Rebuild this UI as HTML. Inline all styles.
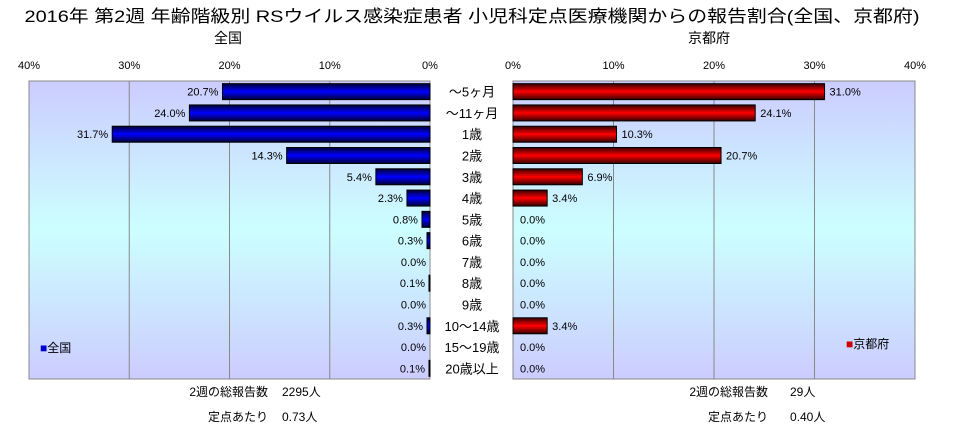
<!DOCTYPE html>
<html><head><meta charset="utf-8"><style>
body{margin:0;background:#fff;}
svg text{font-family:"Liberation Sans","Noto Sans CJK JP",sans-serif;}
</style></head><body>
<svg id="c" width="968" height="431" xmlns="http://www.w3.org/2000/svg">
<defs>
<linearGradient id="bg" x1="0" y1="0" x2="0" y2="1">
<stop offset="0" stop-color="#ccccff"/><stop offset="0.5" stop-color="#ccffff"/><stop offset="1" stop-color="#ccccff"/>
</linearGradient>
<linearGradient id="gb" x1="0" y1="0" x2="0" y2="1">
<stop offset="0" stop-color="#000033"/><stop offset="0.5" stop-color="#0000ff"/><stop offset="1" stop-color="#000033"/>
</linearGradient>
<linearGradient id="gr" x1="0" y1="0" x2="0" y2="1">
<stop offset="0" stop-color="#330000"/><stop offset="0.5" stop-color="#ff0000"/><stop offset="1" stop-color="#330000"/>
</linearGradient>
</defs>
<text x="472" y="22" font-size="17" text-anchor="middle" textLength="895" lengthAdjust="spacingAndGlyphs">2016年 第2週 年齢階級別 RSウイルス感染症患者 小児科定点医療機関からの報告割合(全国、京都府)</text>
<text x="228" y="43" font-size="14" text-anchor="middle">全国</text>
<text x="709" y="43" font-size="14" text-anchor="middle">京都府</text>
<rect x="29" y="81" width="401" height="298" fill="url(#bg)" stroke="#888"/>
<rect x="513" y="81" width="402" height="298" fill="url(#bg)" stroke="#888"/>
<g id="grid"></g>
<g id="bars"></g>
<text x="40" y="352" font-size="12"><tspan fill="#0000cc">■</tspan>全国</text>
<text x="846" y="348" font-size="12"><tspan fill="#cc0000">■</tspan>京都府</text>
<text x="268" y="396" font-size="12" text-anchor="end">2週の総報告数</text>
<text x="232" y="396" font-size="12" dx="0"> </text>
<text x="282" y="396" font-size="12">2295人</text>
<text x="268" y="421" font-size="12" text-anchor="end">定点あたり</text>
<text x="282" y="421" font-size="12">0.73人</text>
<text x="768" y="396" font-size="12" text-anchor="end">2週の総報告数</text>
<text x="790" y="396" font-size="12">29人</text>
<text x="768" y="421" font-size="12" text-anchor="end">定点あたり</text>
<text x="790" y="421" font-size="12">0.40人</text>
</svg>
<script>
const categories=["～5ヶ月","～11ヶ月","1歳","2歳","3歳","4歳","5歳","6歳","7歳","8歳","9歳","10～14歳","15～19歳","20歳以上"];
const nationalValues=[20.7,24.0,31.7,14.3,5.4,2.3,0.8,0.3,0.0,0.1,0.0,0.3,0.0,0.1];
const kyotoValues=[31.0,24.1,10.3,20.7,6.9,3.4,0,0,0,0,0,3.4,0,0];
const tickValues=[0,10,20,30,40];
const NS="http://www.w3.org/2000/svg";
const top0=81,rowH=298/14;
const xL=v=>430-v*401/40;
const xR=v=>513+v*402/40;
const yRow=i=>top0+i*rowH;
const svg=document.getElementById('c'),grid=document.getElementById('grid'),bars=document.getElementById('bars');
function mk(t,a,p){const e=document.createElementNS(NS,t);for(const k in a)e.setAttribute(k,a[k]);p.appendChild(e);return e;}
tickValues.forEach(v=>{
 if(v>0&&v<40){
  let l=mk('line',{x1:xL(v),x2:xL(v),y1:81,y2:379,stroke:'#888'},grid);
  
  
  let r=mk('line',{x1:xR(v),x2:xR(v),y1:81,y2:379,stroke:'#888'},grid);
  
  
 }
 let t=mk('text',{x:xL(v),y:69,'font-size':11,'text-anchor':'middle'},grid);t.textContent=v+'%';
 
 
 let t2=mk('text',{x:xR(v),y:69,'font-size':11,'text-anchor':'middle'},grid);t2.textContent=v+'%';
 
 
});
categories.forEach((c,i)=>{
 const y=yRow(i),bh=16,by=y+(rowH-bh)/2,cy=y+rowH/2+4;
 const nv=nationalValues[i],kv=kyotoValues[i];
 if(nv>0){let b=mk('rect',{x:xL(nv),y:by,width:430-xL(nv),height:bh,fill:'url(#gb)',stroke:'#000'},bars);
  
  }
 let nl=mk('text',{x:xL(nv)-4,y:cy,'font-size':11,'text-anchor':'end'},bars);nl.textContent=nv.toFixed(1)+'%';
 
 
 if(kv>0){let b=mk('rect',{x:513,y:by,width:xR(kv)-513,height:bh,fill:'url(#gr)',stroke:'#000'},bars);
  
  }
 let kl=mk('text',{x:xR(kv)+(kv>0?5:7),y:cy,'font-size':11},bars);kl.textContent=kv.toFixed(1)+'%';
 
 
 let cl=mk('text',{x:472,y:cy+1,'font-size':13,'text-anchor':'middle'},bars);cl.textContent=c;
 
 
});
</script>
</body></html>
